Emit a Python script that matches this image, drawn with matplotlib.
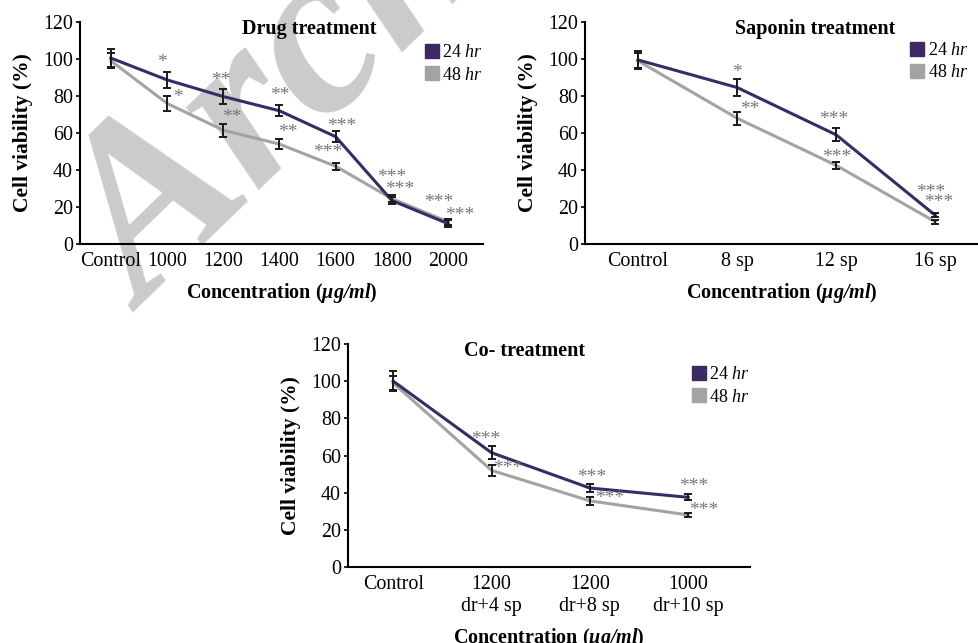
import matplotlib
matplotlib.use("Agg")
import matplotlib.pyplot as plt
from matplotlib.lines import Line2D

plt.rcParams['font.family'] = ['Liberation Serif', 'DejaVu Serif']
plt.rcParams['mathtext.fontset'] = 'custom'
plt.rcParams['mathtext.rm'] = 'Liberation Serif'
plt.rcParams['mathtext.it'] = 'Liberation Serif:italic'
plt.rcParams['mathtext.bf'] = 'Liberation Serif:bold'
plt.rcParams['mathtext.bfit'] = 'Liberation Serif:bold:italic'

# ---- data ----
drug_labels = ['Control', '1000', '1200', '1400', '1600', '1800', '2000']
drug_24 = [100.5, 88.7, 79.7, 72.0, 58.0, 23.5, 11.0]
drug_24_err = [5.0, 4.5, 4.0, 3.0, 3.0, 2.0, 2.0]
drug_48 = [99.0, 76.0, 61.5, 54.0, 42.0, 24.5, 12.0]
drug_48_err = [4.0, 4.0, 3.5, 2.5, 2.0, 2.0, 1.5]
drug_24_sig = ['', '*', '**', '**', '***', '***', '***']
drug_48_sig = ['', '*', '**', '**', '***', '***', '***']

sap_labels = ['Control', '8 sp', '12 sp', '16 sp']
sap_24 = [99.5, 84.6, 59.0, 15.5]
sap_24_err = [5.0, 4.5, 3.5, 1.0]
sap_48 = [99.0, 68.0, 42.5, 12.0]
sap_48_err = [4.0, 3.5, 2.0, 1.0]
sap_24_sig = ['', '*', '***', '***']
sap_48_sig = ['', '**', '***', '***']

co_labels = ['Control', '1200\ndr+4 sp', '1200\ndr+8 sp', '1000\ndr+10 sp']
co_24 = [100.0, 61.5, 42.5, 37.5]
co_24_err = [5.3, 3.5, 2.0, 1.7]
co_48 = [99.0, 52.0, 35.6, 28.0]
co_48_err = [4.0, 3.0, 2.0, 1.0]
co_24_sig = ['', '***', '***', '***']
co_48_sig = ['', '***', '***', '***']

# star label offsets (dx, dy) from each point, in data units
drug_24_off = [(0, 0), (-0.09, 11), (-0.05, 10), (0, 9.5), (0.1, 7), (0, 14), (-0.16, 12.7)]
drug_48_off = [(0, 0), (0.2, 4.6), (0.15, 8.4), (0.14, 8), (-0.14, 9), (0.14, 6.5), (0.21, 5)]
sap_24_off = [(0, 0), (0, 9.5), (-0.03, 10), (-0.05, 14)]
sap_48_off = [(0, 0), (0.13, 6.3), (0, 5.7), (0.03, 12)]
co_24_off = [(0, 0), (-0.06, 8.7), (0.02, 7.2), (0.06, 7.4)]
co_48_off = [(0, 0), (0.16, 2.3), (0.2, 2.5), (0.16, 4)]

C24 = '#3b2a63'
C48 = '#a3a3a3'
STAR = '#777777'


def panel(ax, labels, y24, e24, y48, e48, s24, s48, o24, o48, title, xlim,
          title_x, legend_anchor):
    x = list(range(len(labels)))
    ax.set_facecolor('none')
    ax.plot(x, y48, color=C48, lw=2.2, zorder=2)
    ax.plot(x, y24, color=C24, lw=2.2, zorder=3)
    ax.errorbar(x, y48, yerr=e48, fmt='none', ecolor='#1a1a1a', elinewidth=1.4,
                capsize=3.2, capthick=1.4, zorder=4)
    ax.errorbar(x, y24, yerr=e24, fmt='none', ecolor='#1a1a1a', elinewidth=1.4,
                capsize=3.2, capthick=1.4, zorder=4)
    for xi, yi, s, (dx, dy) in zip(x, y24, s24, o24):
        if s:
            ax.text(xi + dx, yi + dy - 1.5, s, color=STAR, fontsize=14,
                    ha='center', va='center')
    for xi, yi, s, (dx, dy) in zip(x, y48, s48, o48):
        if s:
            ax.text(xi + dx, yi + dy - 1.5, s, color=STAR, fontsize=14,
                    ha='center', va='center')
    ax.set_xlim(*xlim)
    ax.set_ylim(0, 120)
    ax.set_yticks(range(0, 121, 20))
    ax.set_xticks(x)
    ax.set_xticklabels(labels)
    ax.tick_params(axis='x', length=0, pad=6, labelsize=14.4)
    ax.tick_params(axis='y', length=3, width=1.2, pad=2, labelsize=14.4)
    for sp in ('top', 'right'):
        ax.spines[sp].set_visible(False)
    for sp in ('left', 'bottom'):
        ax.spines[sp].set_linewidth(1.5)
    ax.set_ylabel('Cell viability (%)', fontsize=15.5, fontweight='bold', labelpad=7)
    ax.set_xlabel(r'Concentration ($\mathbfit{\mu g/ml}$)', fontsize=14.5,
                  fontweight='bold', labelpad=7)
    ax.text(title_x, 0.968, title, transform=ax.transAxes, fontsize=14.5,
            fontweight='bold', ha='center', va='center')
    handles = [Line2D([], [], ls='none', marker='s', markersize=10.5,
                      markerfacecolor=C24, markeredgecolor=C24),
               Line2D([], [], ls='none', marker='s', markersize=10.5,
                      markerfacecolor=C48, markeredgecolor=C48)]
    ax.legend(handles, [r'24 $\it{hr}$', r'48 $\it{hr}$'], loc='upper right',
              bbox_to_anchor=legend_anchor, frameon=False, fontsize=13,
              handlelength=0.8, handletextpad=0.2, labelspacing=0.3,
              borderpad=0, borderaxespad=0)


fig = plt.figure(figsize=(9.79, 6.43), dpi=100)

# faint watermark behind the panels
fig.text(0.148, 0.515, 'Archive of SID', rotation=44, fontsize=172,
         fontweight='bold', style='italic', color='#cbcbcb', zorder=-1,
         ha='left', va='baseline', rotation_mode='anchor')

ax1 = fig.add_axes([0.0817, 0.6205, 0.4116, 0.3453])
panel(ax1, drug_labels, drug_24, drug_24_err, drug_48, drug_48_err,
      drug_24_sig, drug_48_sig, drug_24_off, drug_48_off,
      'Drug treatment', (-0.55, 6.62), 0.57, (1.0, 0.90))

ax2 = fig.add_axes([0.5975, 0.6205, 0.4014, 0.3453])
panel(ax2, sap_labels, sap_24, sap_24_err, sap_48, sap_48_err,
      sap_24_sig, sap_48_sig, sap_24_off, sap_48_off,
      'Saponin treatment', (-0.535, 3.43), 0.585, (0.975, 0.91))

ax3 = fig.add_axes([0.3555, 0.1182, 0.4106, 0.3468])
panel(ax3, co_labels, co_24, co_24_err, co_48, co_48_err,
      co_24_sig, co_48_sig, co_24_off, co_48_off,
      'Co- treatment', (-0.46, 3.63), 0.44, (1.0, 0.90))

fig.savefig('out.png', dpi=100)
